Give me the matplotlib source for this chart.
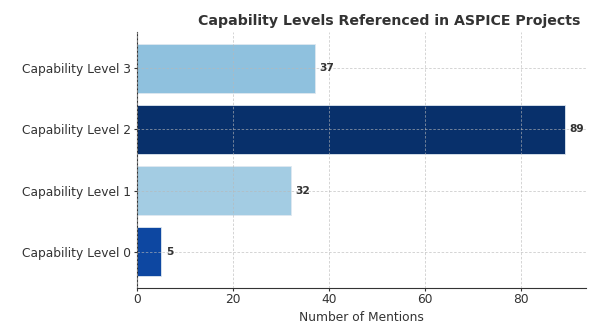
import matplotlib.pyplot as plt

# Menciones por nivel de capacidad
niveles = ['Capability Level 0', 'Capability Level 1', 'Capability Level 2', 'Capability Level 3']
menciones = [5, 32, 89, 37]
colores = ['#0d47a1', '#a3cce3', '#08306b', '#8fc1de']

plt.rcParams['font.family'] = 'DejaVu Sans'
plt.rcParams['text.color'] = '#333333'
plt.rcParams['axes.labelcolor'] = '#333333'
plt.rcParams['xtick.color'] = '#333333'
plt.rcParams['ytick.color'] = '#333333'

fig, ax = plt.subplots(figsize=(5.98, 3.29), dpi=100)
barras = ax.barh(niveles, menciones, color=colores, edgecolor='#dfe8f0', linewidth=0.6)

# Etiquetas con el valor al final de cada barra
for b, v in zip(barras, menciones):
    ax.text(b.get_width() + 1, b.get_y() + b.get_height() / 2, str(v),
            va='center', ha='left', fontsize=7.7, fontweight='bold')

ax.set_title('Capability Levels Referenced in ASPICE Projects', fontsize=10.2,
             fontweight='bold', pad=5, x=0.561)
ax.set_xlabel('Number of Mentions', fontsize=8.8, labelpad=3)
ax.tick_params(labelsize=8.8, length=2, pad=2)
ax.grid(True, linestyle=(0, (3, 2)), color='#b8b8b8', linewidth=0.6, alpha=0.7)
ax.set_axisbelow(False)
for s in ['top', 'right']:
    ax.spines[s].set_visible(False)
ax.spines['left'].set_color('#333333')
ax.spines['bottom'].set_color('#333333')

plt.subplots_adjust(left=0.229, right=0.98, top=0.903, bottom=0.125)
plt.savefig('out.png')
